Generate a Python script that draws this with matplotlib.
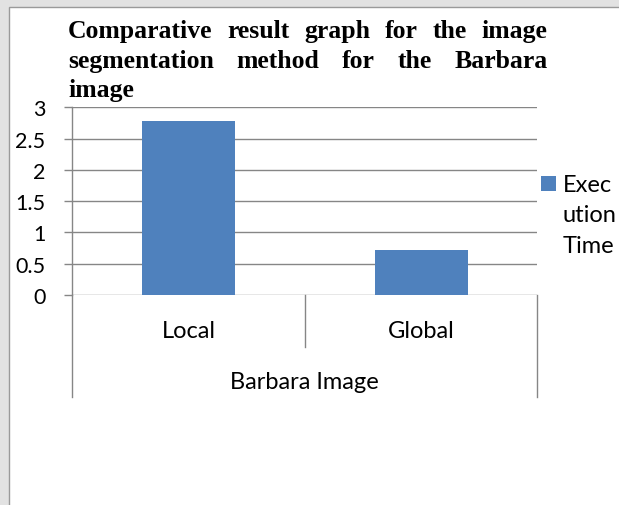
import numpy as np
import matplotlib.pyplot as plt
from matplotlib.patches import Rectangle
import matplotlib.transforms as mtransforms

# Data
categories = ["Local", "Global"]
group_label = "Barbara Image"
exec_time = [2.78, 0.72]
series_name = "Exec\nution\nTime"
title_lines = ["Comparative result graph for the image",
               "segmentation method for the Barbara",
               "image"]
yticks = np.arange(0, 3.01, 0.5)
ytick_labels = ["0", "0.5", "1", "1.5", "2", "2.5", "3"]

W, H = 619, 506
BAR = "#4f81bd"
GRID = "#868686"
SANS = "Lato"

fig = plt.figure(figsize=(W / 100, H / 100), dpi=100)
fig.patch.set_facecolor("#e2e2e2")


def fx(px):
    return px / W


def fy(py):
    return 1 - py / H


# white page panel with a thin grey border
fig.patches.append(Rectangle((fx(8.5), -0.01), 1, fy(7.5) + 0.01, transform=fig.transFigure,
                             facecolor="white", edgecolor="#9a9a9a", lw=1.0, zorder=-5))

# plot area
ax = fig.add_axes([fx(72.3), fy(296), fx(537.3) - fx(72.3), fy(108.3) - fy(296)])
ax.set_facecolor("none")
x = np.arange(len(categories))
ax.bar(x, exec_time, width=0.4, color=BAR, zorder=3)
ax.set_xlim(-0.5, len(categories) - 0.5)
ax.set_ylim(0, 3)
ax.set_yticks(yticks, ytick_labels)
ax.yaxis.grid(True, color=GRID, lw=1.0)
ax.set_axisbelow(True)
for s in ["top", "right", "bottom"]:
    ax.spines[s].set_visible(False)
ax.spines["left"].set_color(GRID)
ax.spines["left"].set_linewidth(1.0)
ax.tick_params(axis="y", direction="out", length=5.8, width=1.0, color=GRID,
               pad=13.5, labelsize=15.5, labelcolor="black")
for lab in ax.get_yticklabels():
    lab.set_fontfamily(SANS)
ax.set_xticks([])

# category separators below the axis
ax_h = 296 - 108.3
trans = mtransforms.blended_transform_factory(ax.transData, ax.transAxes)
bounds = np.arange(len(categories) + 1) - 0.5
for b in bounds:
    depth = 102 if b in (bounds[0], bounds[-1]) else 52
    ax.plot([b, b], [0, -depth / ax_h], transform=trans, color=GRID, lw=1.0,
            clip_on=False)

for xi, c in zip(x, categories):
    ax.text(xi, -35.7 / ax_h, c, transform=trans, ha="center", va="center",
            fontsize=17, family=SANS)
ax.text(np.mean(x), -87 / ax_h, group_label, transform=trans, ha="center",
        va="center", fontsize=17, family=SANS)

# legend
fig.patches.append(Rectangle((fx(541), fy(192)), fx(15), 15 / H,
                             transform=fig.transFigure, facecolor=BAR, lw=0))
fig.text(fx(563), fy(175), series_name, ha="left", va="top", fontsize=17,
         family=SANS, linespacing=1.55)

# justified title
fig.canvas.draw()
renderer = fig.canvas.get_renderer()
left, right = 68, 547.5
baselines = [38.3, 67.8, 96.7]
tsize = 18.5
for i, (line, yb) in enumerate(zip(title_lines, baselines)):
    words = line.split()
    if len(words) == 1 or i == len(title_lines) - 1:
        fig.text(fx(left), fy(yb), line, ha="left", va="baseline", fontsize=tsize,
                 family="Liberation Serif", weight="bold")
        continue
    arts = [fig.text(0, fy(yb), w, ha="left", va="baseline", fontsize=tsize,
                     family="Liberation Serif", weight="bold") for w in words]
    widths = [a.get_window_extent(renderer).width for a in arts]
    gap = (right - left - sum(widths)) / (len(words) - 1)
    pos = left
    for a, w in zip(arts, widths):
        a.set_x(fx(pos))
        pos += w + gap

fig.savefig("out.png", dpi=100, facecolor=fig.get_facecolor())
